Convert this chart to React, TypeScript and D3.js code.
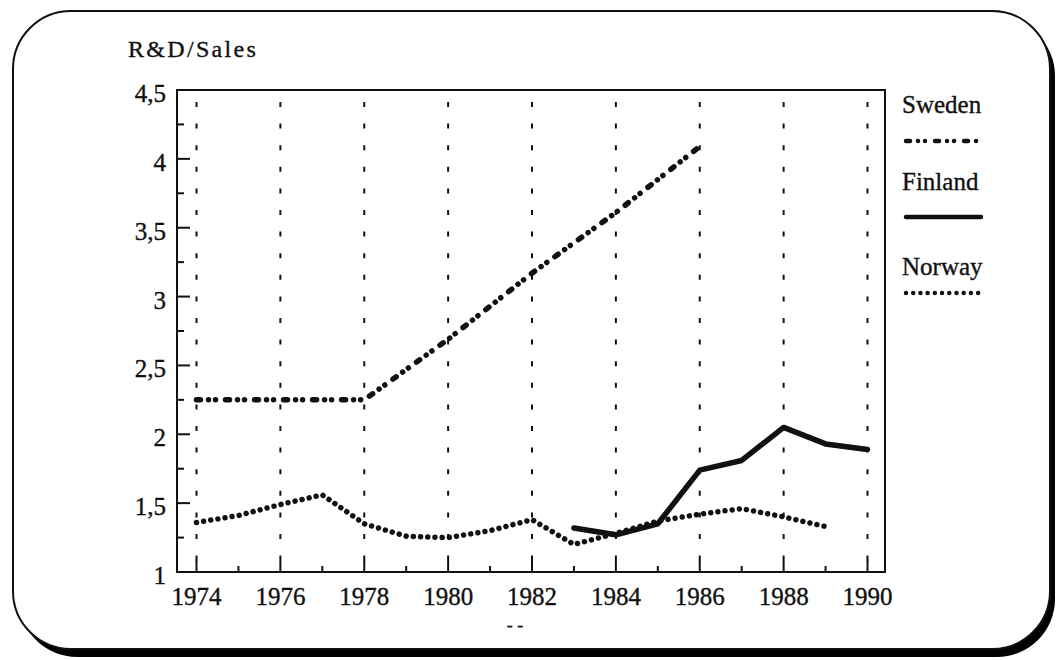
import * as d3 from "d3";
import { useEffect, useRef } from "react";

const W = 1057;
const H = 660;

const yearTicks = [1974, 1976, 1978, 1980, 1982, 1984, 1986, 1988, 1990];
const valueTicks = [1, 1.5, 2, 2.5, 3, 3.5, 4, 4.5];
const valueTickLabels = ["1", "1,5", "2", "2,5", "3", "3,5", "4", "4,5"];

const swedenYears = [1974, 1976, 1978, 1980, 1982, 1984, 1986];
const swedenValues = [2.25, 2.25, 2.25, 2.69, 3.17, 3.61, 4.09];

const finlandYears = [1983, 1984, 1985, 1986, 1987, 1988, 1989, 1990];
const finlandValues = [1.32, 1.27, 1.35, 1.74, 1.81, 2.05, 1.93, 1.89];

const norwayYears = [1974, 1975, 1976, 1977, 1978, 1979, 1980, 1981, 1982, 1983, 1984, 1985, 1986, 1987, 1988, 1989];
const norwayValues = [1.36, 1.41, 1.49, 1.56, 1.35, 1.26, 1.25, 1.3, 1.38, 1.2, 1.28, 1.37, 1.42, 1.46, 1.4, 1.33];

const series = [
  { name: "Sweden", years: swedenYears, values: swedenValues, width: 5.5, dash: "4 8 0.01 7 0.01 10" },
  { name: "Finland", years: finlandYears, values: finlandValues, width: 5.5, dash: null },
  { name: "Norway", years: norwayYears, values: norwayValues, width: 5.5, dash: "0.01 7.2" },
];

const font = "'Liberation Serif', 'Times New Roman', serif";
const ink = "#111";

export default function App() {
  const svgRef = useRef<SVGSVGElement>(null);

  useEffect(() => {
    document.body.style.margin = "0";
  }, []);

  // plot box
  const box = { left: 177, right: 885, top: 90, bottom: 572 };

  const x = d3.scaleLinear().domain([1974, 1990]).range([196.5, 867.5]);
  const y = d3.scaleLinear().domain([1, 4.5]).range([box.bottom, box.top]);

  const line = d3
    .line<[number, number]>()
    .x((d) => x(d[0]))
    .y((d) => y(d[1]));

  const minorY = d3.range(1.25, 4.5, 0.5);
  const allYears = d3.range(1974, 1991);

  const legendY = [
    { text: 113, line: 141 },
    { text: 190, line: 217 },
    { text: 275, line: 293 },
  ];

  const txt = { fontFamily: font, fill: ink, stroke: ink, strokeWidth: 0.35 };

  return (
    <div style={{ position: "absolute", left: 0, top: 0 }}>
      <svg ref={svgRef} width={W} height={H} style={{ display: "block", background: "#fff" }}>
        {/* frame with heavy shadow */}
        <rect x={19} y={18} width={1036} height={639} rx={58} fill="#000" />
        <rect x={13} y={11} width={1037} height={638} rx={58} fill="#fff" stroke={ink} strokeWidth={2} />

        <text x={128} y={57} fontSize={24} letterSpacing={2.3} {...txt}>
          R&amp;D/Sales
        </text>

        {/* dashed vertical grid */}
        {yearTicks.map((yr) => (
          <line
            key={"g" + yr}
            x1={x(yr)}
            x2={x(yr)}
            y1={box.top + 12}
            y2={box.bottom}
            stroke={ink}
            strokeWidth={2}
            strokeDasharray="5 16.6"
          />
        ))}

        {/* axis box */}
        <rect
          x={box.left}
          y={box.top}
          width={box.right - box.left}
          height={box.bottom - box.top}
          fill="none"
          stroke={ink}
          strokeWidth={2}
        />

        {/* y ticks */}
        {valueTicks.map((v) => (
          <line key={"yt" + v} x1={box.left} x2={box.left + 13} y1={y(v)} y2={y(v)} stroke={ink} strokeWidth={2} />
        ))}
        {minorY.map((v) => (
          <line key={"ym" + v} x1={box.left} x2={box.left + 7} y1={y(v)} y2={y(v)} stroke={ink} strokeWidth={2} />
        ))}
        {valueTicks.map((v, i) => (
          <text key={"yl" + v} x={166} y={y(v) + 12} textAnchor="end" fontSize={25} {...txt}>
            {valueTickLabels[i]}
          </text>
        ))}

        {/* x ticks */}
        {allYears.map((yr) => (
          <line
            key={"xt" + yr}
            x1={x(yr)}
            x2={x(yr)}
            y1={box.bottom}
            y2={box.bottom - (yr % 2 === 0 ? 12 : 6)}
            stroke={ink}
            strokeWidth={2}
          />
        ))}
        {yearTicks.map((yr) => (
          <text key={"xl" + yr} x={x(yr)} y={605} textAnchor="middle" fontSize={25} {...txt}>
            {yr}
          </text>
        ))}
        <text x={515} y={631} textAnchor="middle" fontSize={18} {...txt}>
          - -
        </text>

        {/* series */}
        {series.map((s) => (
          <path
            key={s.name}
            d={line(s.years.map((yr, i) => [yr, s.values[i]] as [number, number])) ?? ""}
            fill="none"
            stroke={ink}
            strokeWidth={s.width}
            strokeLinecap="round"
            strokeLinejoin="round"
            strokeDasharray={s.dash ?? undefined}
          />
        ))}

        {/* legend */}
        {series.map((s, i) => (
          <g key={"lg" + s.name}>
            <text x={902} y={legendY[i].text} fontSize={25} {...txt}>
              {s.name}
            </text>
            <line
              x1={906}
              x2={981}
              y1={legendY[i].line}
              y2={legendY[i].line}
              stroke={ink}
              strokeWidth={s.width - 1}
              strokeLinecap="round"
              strokeDasharray={s.dash ?? undefined}
            />
          </g>
        ))}
      </svg>
    </div>
  );
}
